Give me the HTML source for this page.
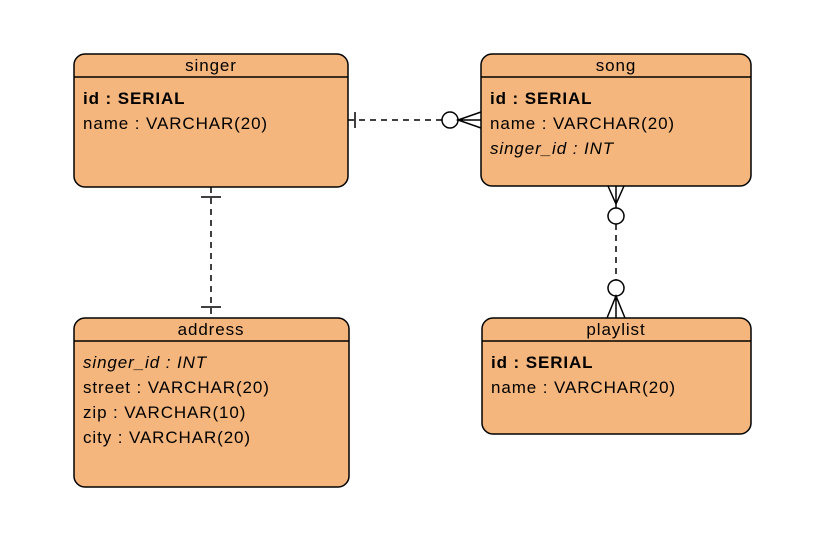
<!DOCTYPE html>
<html><head><style>
body{margin:0;background:#fff;}
svg text{font-family:"Liberation Sans",Arial,sans-serif;font-size:17px;letter-spacing:0.9px;fill:#000;}
</style></head><body>
<svg width="838" height="536" viewBox="0 0 838 536" xmlns="http://www.w3.org/2000/svg">
<g fill="#f4b67c" stroke="#000" stroke-width="1.5">
<rect x="74" y="54" width="274" height="133" rx="11"/>
<rect x="481" y="54" width="270" height="132" rx="11"/>
<rect x="74" y="318" width="275" height="169" rx="11"/>
<rect x="482" y="318" width="269" height="116" rx="11"/>
</g>
<g stroke="#000" stroke-width="1.5">
<line x1="74" y1="77" x2="348" y2="77"/>
<line x1="481" y1="77" x2="751" y2="77"/>
<line x1="74" y1="341" x2="349" y2="341"/>
<line x1="482" y1="341" x2="751" y2="341"/>
</g>
<g text-anchor="middle">
<text x="211" y="71">singer</text>
<text x="616" y="71">song</text>
<text x="211" y="335">address</text>
<text x="616" y="335">playlist</text>
</g>
<text x="83" y="104" font-weight="bold">id : SERIAL</text>
<text x="83" y="129">name : VARCHAR(20)</text>
<text x="490" y="104" font-weight="bold">id : SERIAL</text>
<text x="490" y="129">name : VARCHAR(20)</text>
<text x="490" y="154" font-style="italic">singer_id : INT</text>
<text x="83" y="368" font-style="italic">singer_id : INT</text>
<text x="83" y="393">street : VARCHAR(20)</text>
<text x="83" y="418">zip : VARCHAR(10)</text>
<text x="83" y="443">city : VARCHAR(20)</text>
<text x="491" y="368" font-weight="bold">id : SERIAL</text>
<text x="491" y="393">name : VARCHAR(20)</text>
<g stroke="#000" stroke-width="1.5" fill="none">
<line x1="348" y1="120" x2="442" y2="120" stroke-dasharray="6,5"/>
<line x1="355" y1="112" x2="355" y2="128"/>
<circle cx="450" cy="120" r="8" fill="#fff"/>
<path d="M481 112 L458 120 L481 128 M458 120 L481 120"/>
<line x1="211" y1="187" x2="211" y2="318" stroke-dasharray="6,5"/>
<line x1="201" y1="197" x2="221" y2="197"/>
<line x1="201" y1="307" x2="221" y2="307"/>
<line x1="616" y1="224" x2="616" y2="280" stroke-dasharray="6,5"/>
<path d="M608 186 L616 204 L624 186 M616 186 L616 208"/>
<circle cx="616" cy="216" r="8" fill="#fff"/>
<circle cx="616" cy="288" r="8" fill="#fff"/>
<path d="M607 318 L616 296 L625 318 M616 296 L616 318"/>
</g>
</svg>
</body></html>
